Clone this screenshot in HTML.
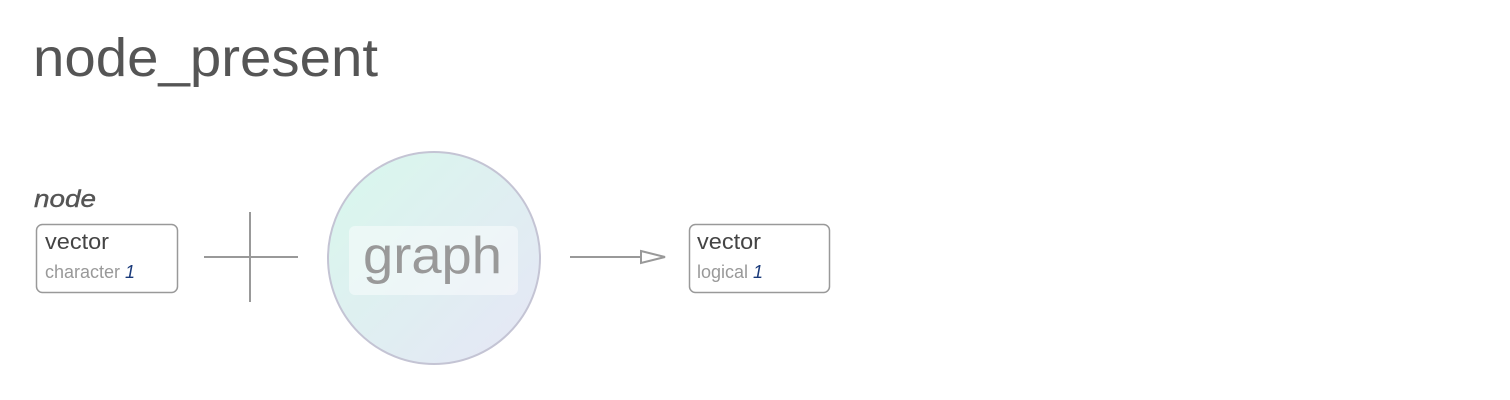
<!DOCTYPE html>
<html><head><meta charset="utf-8"><style>
html,body{margin:0;padding:0;background:#fff;width:1510px;height:400px;overflow:hidden}
svg{display:block}
text{font-family:"Liberation Sans",sans-serif}
</style></head><body>
<svg width="1510" height="400">
<defs>
<linearGradient id="g" x1="0" y1="0" x2="1" y2="1">
<stop offset="0" stop-color="#d8f8ec"/><stop offset="1" stop-color="#e6e6f6"/>
</linearGradient>
</defs>
<text x="33" y="76" font-size="54" fill="#555" textLength="345" lengthAdjust="spacingAndGlyphs">node_present</text>
<text x="34" y="207" font-size="24" font-style="italic" fill="#555" stroke="#555" stroke-width="0.4" textLength="62" lengthAdjust="spacingAndGlyphs">node</text>
<g>
<rect x="36.5" y="224.5" width="141" height="68" rx="6" fill="#fff" stroke="#999" stroke-width="1.5"/>
<text x="45" y="249" font-size="22" fill="#444" textLength="64" lengthAdjust="spacingAndGlyphs">vector</text>
<text x="45" y="278" font-size="18" fill="#999">character <tspan font-style="italic" fill="#1a3a7a">1</tspan></text>
</g>
<g stroke="#999" stroke-width="2">
<line x1="204" y1="257" x2="298" y2="257"/>
<line x1="250" y1="212" x2="250" y2="302"/>
</g>
<g>
<circle cx="434" cy="258" r="106" fill="url(#g)" stroke="#c4c4d4" stroke-width="2"/>
<rect x="349" y="226" width="169" height="69" rx="6" fill="#fff" fill-opacity="0.45"/>
<text x="363" y="273" font-size="52" fill="#999" textLength="139" lengthAdjust="spacingAndGlyphs">graph</text>
</g>
<g stroke="#999" stroke-width="2" fill="#fff">
<line x1="570" y1="257" x2="641" y2="257"/>
<polygon points="641,251 665,257 641,263"/>
</g>
<g>
<rect x="689.5" y="224.5" width="140" height="68" rx="6" fill="#fff" stroke="#999" stroke-width="1.5"/>
<text x="697" y="249" font-size="22" fill="#444" textLength="64" lengthAdjust="spacingAndGlyphs">vector</text>
<text x="697" y="278" font-size="18" fill="#999">logical <tspan font-style="italic" fill="#1a3a7a">1</tspan></text>
</g>
</svg>
</body></html>
